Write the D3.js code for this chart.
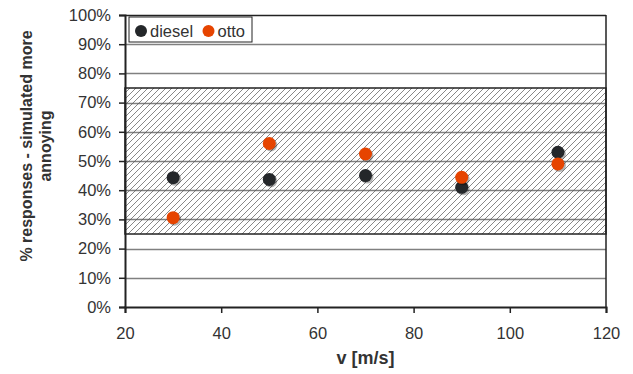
<!DOCTYPE html>
<html>
<head>
<meta charset="utf-8">
<script src="https://cdn.jsdelivr.net/npm/d3@7"></script>
<style>
body { margin: 0; background: #fff; }
text { font-family: "Liberation Sans", Arial, sans-serif; fill: #333; }
</style>
</head>
<body>
<div id="chart"></div>
<script>
// data
var speeds = [30, 50, 70, 90, 110];
var diesel = [44.3, 43.7, 45.0, 41.0, 53.0];
var otto = [30.6, 56.0, 52.4, 44.4, 49.0];
var band = [25, 75];
var xTicks = [20, 40, 60, 80, 100, 120];
var yTicks = [0, 10, 20, 30, 40, 50, 60, 70, 80, 90, 100];

var width = 633, height = 374;
var margin = { top: 15, bottom: 67, left: 125, right: 27 };

var svg = d3.select('#chart')
    .append('svg')
    .attr('width', width)
    .attr('height', height);

var w = width - margin.left - margin.right;
var h = height - margin.top - margin.bottom;

var g = svg.append('g')
    .attr('transform', 'translate(' + margin.left + ',' + margin.top + ')');

var x_scale = d3.scaleLinear().domain([20, 120]).range([0, w]);
var y_scale = d3.scaleLinear().domain([0, 100]).range([h, 0]);

// hatch pattern
var defs = svg.append('defs');
var pat = defs.append('pattern')
    .attr('id', 'hatch')
    .attr('patternUnits', 'userSpaceOnUse')
    .attr('width', 6)
    .attr('height', 6);
pat.append('path')
    .attr('d', 'M-1,1 l2,-2 M0,6 l6,-6 M5,7 l2,-2')
    .attr('stroke', '#555')
    .attr('stroke-width', 0.7);

// gridlines
g.selectAll('.grid')
    .data(yTicks.slice(1))
    .enter()
    .append('line')
    .attr('x1', 0)
    .attr('x2', w)
    .attr('y1', function(d) { return Math.round(y_scale(d)) + 0.5; })
    .attr('y2', function(d) { return Math.round(y_scale(d)) + 0.5; })
    .attr('stroke', function(d) { return d == 100 ? '#222' : '#808080'; })
    .attr('stroke-width', 1.5);

// band
g.append('rect')
    .attr('x', x_scale(20))
    .attr('y', y_scale(band[1]))
    .attr('width', x_scale(120) - x_scale(20))
    .attr('height', y_scale(band[0]) - y_scale(band[1]))
    .attr('fill', 'url(#hatch)')
    .attr('stroke', '#222')
    .attr('stroke-width', 1.5);

// right border
g.append('line')
    .attr('x1', w).attr('x2', w)
    .attr('y1', 0).attr('y2', h)
    .attr('stroke', '#222')
    .attr('stroke-width', 1.5);

// axes
var y_axis = d3.axisLeft(y_scale)
    .tickValues(yTicks)
    .tickSize(6)
    .tickPadding(8)
    .tickFormat(function(d) { return d + '%'; });
var x_axis = d3.axisBottom(x_scale)
    .tickValues(xTicks)
    .tickSize(6)
    .tickPadding(14)
    .tickFormat(d3.format('d'));

var ya = g.append('g').attr('class', 'y axis').call(y_axis);
var xa = g.append('g').attr('class', 'x axis')
    .attr('transform', 'translate(0,' + h + ')')
    .call(x_axis);

[ya, xa].forEach(function(a) {
    a.select('.domain').attr('stroke', '#222').attr('stroke-width', 2);
    a.selectAll('.tick line').attr('stroke', '#222').attr('stroke-width', 1.5);
    a.selectAll('.tick text').style('font-size', '16.5px').attr('fill', '#333');
});

// points
function drawSeries(vals, colour) {
    var pts = g.append('g');
    pts.selectAll('.shadow')
        .data(vals)
        .enter()
        .append('circle')
        .attr('cx', function(d, i) { return x_scale(speeds[i]) + 1.5; })
        .attr('cy', function(d) { return y_scale(d) + 1.5; })
        .attr('r', 6.5)
        .attr('fill', 'rgba(0,0,0,0.3)');
    pts.selectAll('.dot')
        .data(vals)
        .enter()
        .append('circle')
        .attr('cx', function(d, i) { return x_scale(speeds[i]); })
        .attr('cy', function(d) { return y_scale(d); })
        .attr('r', 6.5)
        .attr('fill', colour);
}
drawSeries(diesel, '#24272a');
drawSeries(otto, '#e64400');

// legend
var lg = g.append('g').attr('transform', 'translate(4,2)');
lg.append('rect')
    .attr('width', 123)
    .attr('height', 25)
    .attr('fill', '#fff')
    .attr('stroke', '#222')
    .attr('stroke-width', 1);
var items = [['diesel', '#24272a', 12], ['otto', '#e64400', 79.5]];
items.forEach(function(it) {
    lg.append('circle').attr('cx', it[2]).attr('cy', 14).attr('r', 6).attr('fill', it[1]);
    lg.append('text').attr('x', it[2] + 9).attr('y', 19.5)
        .style('font-size', '16.5px').text(it[0]);
});

// axis titles
svg.append('text')
    .attr('x', margin.left + w / 2)
    .attr('y', 364)
    .attr('text-anchor', 'middle')
    .style('font-size', '18px')
    .style('font-weight', 'bold')
    .text('v [m/s]');

var yt = svg.append('text')
    .attr('transform', 'translate(0,146) rotate(-90)')
    .attr('text-anchor', 'middle')
    .style('font-size', '16px')
    .style('font-weight', 'bold');
yt.append('tspan').attr('x', 0).attr('y', 32).text('% responses - simulated more');
yt.append('tspan').attr('x', 0).attr('y', 51).text('annoying');
</script>
</body>
</html>
